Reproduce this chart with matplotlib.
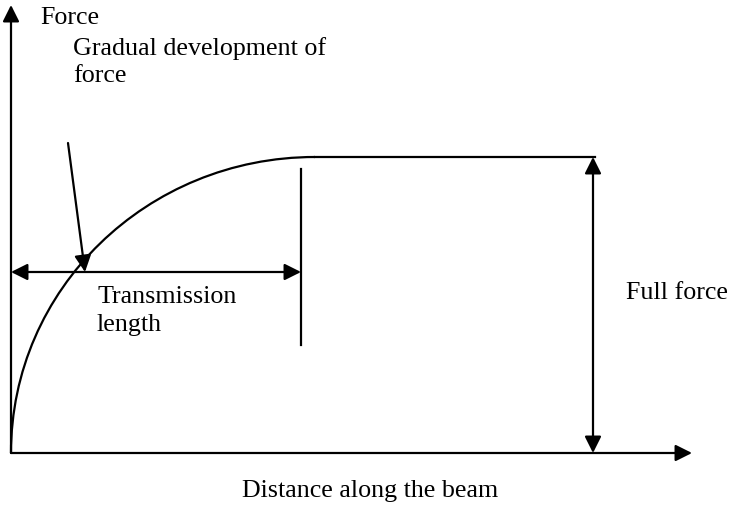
import matplotlib
matplotlib.use('Agg')
import matplotlib.pyplot as plt
from matplotlib.path import Path
from matplotlib.patches import PathPatch

plt.rcParams['font.family'] = ['Liberation Serif', 'DejaVu Serif']

# diagram geometry (pixel coordinates, y downwards)
origin = (11, 453)
y_axis_top = 5
x_axis_end = 692
# quarter-ellipse-like rise of force, then the plateau
rise_pts = [(11, 453), (11, 289), (147, 157), (315, 157)]
plateau_x = [315, 595]
plateau_y = 157
full_force_x = 593
trans_x = [11, 301]
trans_y = 272
tick_x = 301
tick_y = [169, 345]
pointer_from = (68, 143)
pointer_to = (85, 272)

labels = ['Force', 'Gradual development of\nforce', 'Transmission\nlength',
          'Full force', 'Distance along the beam']
label_pos = [(40, 18), (73, 62), (97, 311), (626, 293), (370, 491)]
label_ha = ['left', 'left', 'left', 'left', 'center']

fig = plt.figure(figsize=(7.31, 5.11), dpi=100)
ax = fig.add_axes([0, 0, 1, 1])
ax.set_xlim(0, 731)
ax.set_ylim(511, 0)
ax.axis('off')

head = '-|>,head_length=0.5,head_width=0.25'
both = '<|-|>,head_length=0.5,head_width=0.25'
def arrow(tail, tip, style=head, lw=1.6):
    ax.annotate('', xy=tip, xytext=tail,
                arrowprops=dict(arrowstyle=style, mutation_scale=20, lw=lw,
                                color='black', shrinkA=0, shrinkB=0))

# axes
arrow(origin, (origin[0], y_axis_top))
arrow(origin, (x_axis_end, origin[1]))

# force curve
codes = [Path.MOVETO, Path.CURVE4, Path.CURVE4, Path.CURVE4]
ax.add_patch(PathPatch(Path(rise_pts, codes), fill=False, lw=1.6, color='black'))
ax.plot(plateau_x, [plateau_y, plateau_y], color='black', lw=1.6)

# full force double arrow
arrow((full_force_x, plateau_y), (full_force_x, origin[1]), style=both)

# transmission length
arrow((trans_x[0], trans_y), (trans_x[1], trans_y), style=both)
ax.plot([tick_x, tick_x], tick_y, color='black', lw=1.6)

# pointer
arrow(pointer_from, pointer_to)

for txt, (x, y), ha in zip(labels, label_pos, label_ha):
    ax.text(x, y, txt, fontsize=18.7, ha=ha, va='center', linespacing=1.35)

fig.savefig('out.png', dpi=100)
